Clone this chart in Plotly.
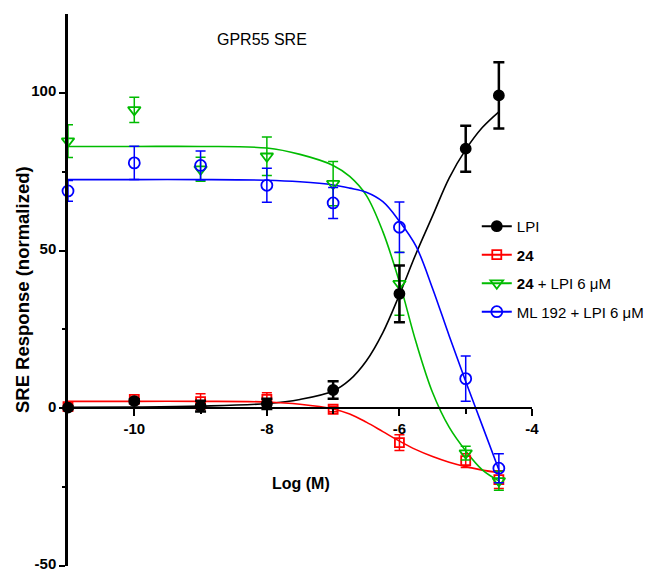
import plotly.graph_objects as go

# ---- data ----
log_conc = [-11, -10, -9, -8, -7, -6, -5, -4.5]

lpi_mean = [0.2, 2.3, 0.7, 1.4, 5.8, 36.3, 82.3, 99.2]
lpi_sem = [0.5, 0.6, 1.7, 1.6, 2.8, 9.0, 7.3, 10.5]

c24_mean = [0.5, 2.8, 2.1, 2.8, -0.3, -10.9, -16.6, -22.6]
c24_sem = [0.5, 0.6, 2.5, 2.1, 0.8, 2.5, 2.2, 2.8]

c24lpi_mean = [84.7, 94.6, 75.8, 79.9, 71.2, 39.5, -14.2, -23.0]
c24lpi_sem = [5.2, 4.0, 3.8, 6.1, 7.0, 10.0, 2.2, 3.0]

ml192_mean = [68.9, 77.8, 77.0, 70.7, 65.1, 57.4, 9.4, -19.0]
ml192_sem = [3.3, 5.3, 4.6, 5.4, 4.9, 8.0, 7.2, 4.6]

# fitted curves
curve_x = [-11, -10, -9, -8, -7.5, -7, -6.75, -6.5, -6.25, -6, -5.75, -5.5, -5.25, -5, -4.75, -4.5]
lpi_fit = [0.3, 0.4, 0.7, 1.5, 2.8, 5.5, 9, 15, 24, 36, 49, 61, 73, 82, 89, 94]
c24_fit = [2.2, 2.2, 2.2, 2.0, 1.3, -0.2, -1.8, -4.4, -7.4, -10.4, -13.1, -15.3, -17.1, -18.5, -19.6, -20.4]
c24lpi_fit = [83, 83, 83, 82.5, 80.5, 77, 73.5, 67.5, 56, 40, 21, 5, -6, -13.5, -19.5, -23]
ml192_fit = [72.5, 72.5, 72.5, 72.3, 71.8, 70.8, 69.8, 68.5, 65.5, 59.3, 51.4, 38, 23, 8.5, -5.5, -19.5]

x_ticks = [-10, -8, -6, -4]
x_minor = [-9, -7, -5]
y_ticks = [-50, 0, 50, 100]
y_minor = [-25, 25, 75]

series = [
    # name, mean, sem, fit, color, symbol, size, err thickness, cap half-width
    ("LPI", lpi_mean, lpi_sem, lpi_fit, "#000000", "circle", 10, 2.5, 5.5),
    ("<b>24</b>", c24_mean, c24_sem, c24_fit, "#ff0000", "square-open", 9, 1.5, 5),
    ("<b>24</b> + LPI 6 μM", c24lpi_mean, c24lpi_sem, c24lpi_fit, "#00bb00", "triangle-down-open", 11, 1.5, 5),
    ("ML 192 + LPI 6 μM", ml192_mean, ml192_sem, ml192_fit, "#0000ff", "circle-open", 11, 1.5, 5),
]

FONT = "Arial, Liberation Sans, sans-serif"
fig = go.Figure()

# curves
for name, mean, sem, fit, color, sym, size, th, cw in series:
    fig.add_trace(go.Scatter(x=curve_x, y=fit, mode="lines", line=dict(color=color, width=1.6, shape="spline"),
                             showlegend=False, hoverinfo="skip", cliponaxis=False))

# data points (LPI drawn last so it sits on top)
for name, mean, sem, fit, color, sym, size, th, cw in series[1:] + series[:1]:
    fig.add_trace(go.Scatter(
        x=log_conc, y=mean, mode="markers",
        marker=dict(symbol=sym, size=size, color=color, line=dict(color=color, width=1.8)),
        error_y=dict(type="data", array=sem, visible=True, color=color, thickness=th, width=cw),
        showlegend=False, cliponaxis=False))

# legend entries
for i, (name, mean, sem, fit, color, sym, size, th, cw) in enumerate(series):
    fig.add_trace(go.Scatter(
        x=[None], y=[None], mode="lines+markers", name=name, legendgroup=str(i),
        line=dict(color=color, width=2),
        marker=dict(symbol=sym, size=size, color=color, line=dict(color=color, width=1.8))))

fig.update_layout(
    width=646, height=564,
    margin=dict(l=60, r=122, t=6, b=6, autoexpand=False),
    paper_bgcolor="white", plot_bgcolor="white",
    font=dict(family=FONT, color="black"),
    showlegend=True,
    legend=dict(x=0.881, y=0.645, xanchor="left", yanchor="top", font=dict(size=15, family=FONT),
                bgcolor="rgba(0,0,0,0)", tracegroupgap=6, itemwidth=30),
    xaxis=dict(range=[-11, -4], anchor="free", position=50 / 175, showline=True, linecolor="black",
               linewidth=2, showgrid=False, zeroline=False, tickmode="array", tickvals=x_ticks,
               ticktext=[str(v) for v in x_ticks], ticks="outside", ticklen=7, tickwidth=2,
               tickcolor="black", tickfont=dict(size=15, family=FONT, weight="bold"),
               ticklabeloverflow="allow", automargin=False,
               minor=dict(tickvals=x_minor, ticks="outside", ticklen=5, tickwidth=2, tickcolor="black")),
    yaxis=dict(range=[-50, 125], showline=True, linecolor="black", linewidth=2.5, showgrid=False,
               zeroline=False, tickmode="array", tickvals=y_ticks, ticktext=[str(v) for v in y_ticks],
               ticks="outside", ticklen=6, tickwidth=2, tickcolor="black",
               tickfont=dict(size=15, family=FONT, weight="bold"),
               ticklabeloverflow="allow", automargin=False, ticklabelshift=-2,
               minor=dict(tickvals=y_minor, ticks="outside", ticklen=3, tickwidth=2, tickcolor="black")),
    annotations=[
        dict(text="GPR55 SRE", xref="paper", yref="paper", x=0.419, y=0.953, showarrow=False,
             font=dict(size=16, family=FONT), xanchor="center", yanchor="middle"),
        dict(text="<b>Log (M)</b>", xref="paper", yref="paper", x=0.502, y=0.150, showarrow=False,
             font=dict(size=16, family=FONT), xanchor="center", yanchor="middle"),
        dict(text="<b>SRE Response (normalized)</b>", xref="paper", yref="paper", x=-0.099, y=0.5,
             showarrow=False, textangle=-90, font=dict(size=18.5, family=FONT),
             xanchor="center", yanchor="middle"),
    ],
)

fig.write_html("out.html")
